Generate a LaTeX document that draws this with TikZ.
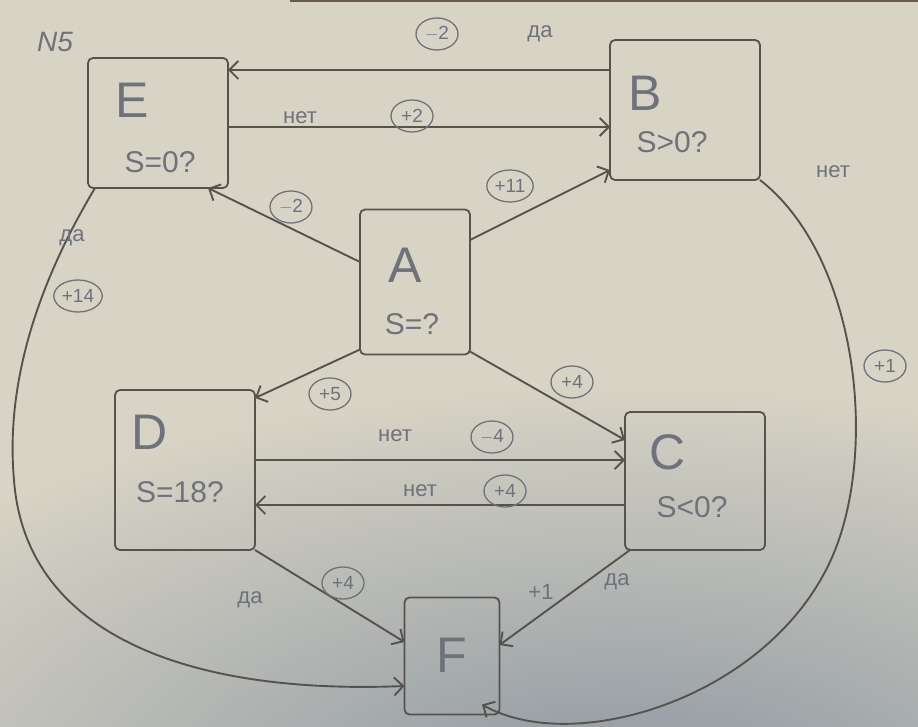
\documentclass[tikz,border=0pt]{standalone}
\usepackage{fontspec}
\setmainfont{Liberation Sans}
\usetikzlibrary{arrows.meta,shapes.geometric}
\definecolor{paper}{HTML}{D8D4C5}
\definecolor{shadowc}{HTML}{8C96A0}
\definecolor{ink}{HTML}{55534C}
\definecolor{pencil}{HTML}{6E727B}
\definecolor{edgetop}{HTML}{6A5A48}
\begin{document}
\begin{tikzpicture}[x=1pt,y=-1pt,
  box/.style={draw=ink, line width=1.8pt, rounded corners=5pt, inner sep=0pt, outer sep=0pt},
  letter/.style={text=pencil, font=\fontsize{50}{54}\selectfont, inner sep=0pt},
  cond/.style={text=pencil, font=\fontsize{30}{33}\selectfont, inner sep=0pt},
  lab/.style={text=pencil, font=\fontsize{22}{24}\selectfont, inner sep=0pt},
  circ/.style={draw=pencil, ellipse, line width=1.3pt, text=pencil, font=\fontsize{19}{21}\selectfont, inner sep=1pt, minimum width=42pt, minimum height=32pt},
  conn/.style={draw=ink, line width=1.9pt, -{Straight Barb[length=9pt,width=18pt]}}
]
% paper
\fill[paper] (0,0) rectangle (918,727);
\begin{scope}
  \clip (0,0) rectangle (918,727);
  \shade[inner color=shadowc, outer color=paper] (620,800) ellipse (900 and 420);
\end{scope}
\fill[edgetop] (290,0) rectangle (918,2.5);
\useasboundingbox (0,0) rectangle (918,727);

% boxes
\node[box, minimum width=140pt, minimum height=130pt] (E) at (158,123) {};
\node[box, minimum width=150pt, minimum height=140pt] (B) at (685,110) {};
\node[box, minimum width=110pt, minimum height=145pt] (A) at (415,282) {};
\node[box, minimum width=140pt, minimum height=160pt] (D) at (185,470) {};
\node[box, minimum width=140pt, minimum height=138pt] (C) at (695,481) {};
\node[box, minimum width=95pt, minimum height=117pt] (F) at (452,656) {};

% box texts
\node[letter] (Et) at (132,100) {E};
\node[cond] (Ec) at (160,162) {S=0?};
\node[letter] (Bt) at (645,93) {B};
\node[cond] (Bc) at (672,142) {S>0?};
\node[letter] (At) at (405,265) {A};
\node[cond] (Ac) at (412,324) {S=?};
\node[letter] (Dt) at (150,432) {D};
\node[cond] (Dc) at (180,492) {S=18?};
\node[letter] (Ct) at (668,452) {C};
\node[cond] (Cc) at (692,507) {S<0?};
\node[letter] (Ft) at (452,655) {F};

\node[lab, font=\fontsize{28}{30}\selectfont\itshape] (num) at (55,42) {N5};

% connectors
\draw[conn] ([yshift=40pt]B.west) -- ([yshift=53pt]E.east);
\draw[conn] ([yshift=-4pt]E.east) -- ([yshift=-17pt]B.west);
\draw[conn] ([yshift=20pt]A.west) -- ([xshift=50pt]E.south);
\draw[conn] ([yshift=42pt]A.east) -- ([yshift=-60pt]B.west);
\draw[conn] ([yshift=5pt]A.south west) -- ([yshift=-8pt]D.north east);
\draw[conn] ([yshift=3pt]A.south east) -- ([yshift=41pt]C.west);
\draw[conn] ([yshift=10pt]D.east) -- ([yshift=21pt]C.west);
\draw[conn] ([yshift=-24pt]C.west) -- ([yshift=-35pt]D.east);
\draw[conn] (D.south east) -- ([yshift=14pt]F.west);
\draw[conn] ([xshift=5pt]C.south west) -- ([yshift=11pt]F.east);
\draw[conn] ([xshift=7pt]E.south west) .. controls (40,280) and (5,380) .. (14,480)
   .. controls (25,630) and (180,695) .. ([yshift=-30pt]F.west);
\draw[conn] (B.south east) .. controls (850,250) and (875,420) .. (842,530)
   .. controls (795,690) and (580,760) .. ([xshift=30pt,yshift=10pt]F.south);

% labels
\node[circ] (l1) at (437,34) {$-$2};
\node[lab] (l2) at (540,34) {да};
\node[lab] (l3) at (300,118) {нет};
\node[circ] (l4) at (412,116) {+2};
\node[circ] (l5) at (291,207) {$-$2};
\node[circ] (l6) at (510,186) {+11};
\node[lab] (l7) at (833,172) {нет};
\node[lab] (l8) at (72,238) {да};
\node[circ] (l9) at (78,296) {+14};
\node[circ] (l10) at (330,394) {+5};
\node[circ] (l11) at (572,382) {+4};
\node[circ] (l12) at (885,366) {+1};
\node[lab] (l13) at (395,436) {нет};
\node[circ] (l14) at (492,437) {$-$4};
\node[lab] (l15) at (420,491) {нет};
\node[circ] (l16) at (505,491) {+4};
\node[lab] (l17) at (250,600) {да};
\node[circ] (l18) at (343,583) {+4};
\node[lab] (l19) at (541,592) {+1};
\node[lab] (l20) at (617,582) {да};
\end{tikzpicture}
\end{document}
